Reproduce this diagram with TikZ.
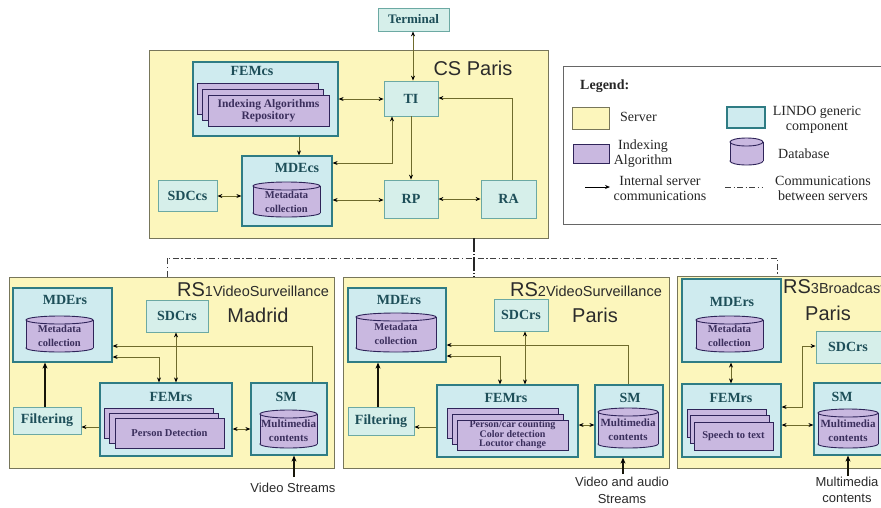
\documentclass[tikz,border=0pt]{standalone}
\usepackage{fontspec}
\setmainfont{Liberation Serif}
\setsansfont{Liberation Sans}
\usetikzlibrary{arrows.meta}
\definecolor{srvfill}{HTML}{FCF6BC}
\definecolor{srvdraw}{HTML}{77765A}
\definecolor{compfill}{HTML}{CFEBEF}
\definecolor{compdraw}{HTML}{2F7C84}
\definecolor{comptwofill}{HTML}{D6EFEA}
\definecolor{comptwodraw}{HTML}{6CA9A3}
\definecolor{labcol}{HTML}{1D4E58}
\definecolor{algfill}{HTML}{C9B8E0}
\definecolor{algdraw}{HTML}{2F2459}
\definecolor{algtext}{HTML}{3A2E5C}
\definecolor{linecol}{HTML}{6F6B2C}
\definecolor{titlecol}{HTML}{2B2B2B}
\tikzset{
 srv/.style={draw=srvdraw, fill=srvfill, line width=0.8pt, inner sep=0pt},
 comp/.style={draw=compdraw, fill=compfill, line width=1.2pt, inner sep=0pt, font=\bfseries\fontsize{14}{16}\selectfont, text=labcol},
 compb/.style={draw=comptwodraw, fill=comptwofill, line width=0.8pt, inner sep=0pt, font=\bfseries\fontsize{14}{16}\selectfont, text=labcol},
 lab/.style={inner sep=0pt, font=\bfseries\fontsize{14}{16}\selectfont, text=labcol},
 alg/.style={draw=algdraw, fill=algfill, line width=1pt},
 algtxt/.style={font=\bfseries\fontsize{10.5}{12}\selectfont, text=algtext, align=center, inner sep=0pt},
 db/.style={draw=algdraw, fill=algfill, line width=0.9pt},
 dbline/.style={draw=algdraw, line width=0.9pt},
 one/.style={draw=linecol, line width=1pt, -{Stealth[length=5pt,width=4pt,black]}},
 two/.style={draw=linecol, line width=1pt, {Stealth[length=5pt,width=4pt,black]}-{Stealth[length=5pt,width=4pt,black]}},
 heavy/.style={draw=black!80!linecol, line width=1.5pt, -{Stealth[length=6pt,width=5pt,black]}},
 inter/.style={draw=black!75, line width=1pt, dash pattern=on 6pt off 2.5pt on 1.2pt off 2.5pt},
 title/.style={font=\sffamily\fontsize{20}{24}\selectfont, text=titlecol, inner sep=0pt},
 lgd/.style={font=\fontsize{14}{15}\selectfont, align=center, inner sep=0pt, text=black!85},
 inp/.style={font=\sffamily\fontsize{13}{17}\selectfont, align=center, inner sep=0pt, text=titlecol},
}
% box: style, name, x1, y1, x2, y2, text
\newcommand\bx[7]{\node[#1, minimum width={#5-#3}, minimum height={#6-#4}] (#2) at ({(#3+#5)/2},{(#4+#6)/2}) {#7};}
% cylinder: x1,y1,x2,y2
\newcommand\dbcyl[4]{%
 \pgfmathsetmacro\dbcx{(#1+#3)/2}%
 \pgfmathsetmacro\dbrx{(#3-#1)/2}%
 \fill[algfill] (#1,#2+4) rectangle (#3,#4-4);
 \filldraw[db] (\dbcx,#4-4) ellipse [x radius=\dbrx pt, y radius=4pt];
 \fill[algfill] (#1,#2+4) rectangle (#3,#4-4);
 \draw[dbline] (#1,#2+4) -- (#1,#4-4) (#3,#2+4) -- (#3,#4-4);
 \filldraw[db] (\dbcx,#2+4) ellipse [x radius=\dbrx pt, y radius=4pt];
}
% stack: name, x1,y1,x2,y2 (front), dx, dy, text, extra style
\newcommand\algstack[9]{%
 \draw[alg] (#2-2*#6,#3-2*#7) rectangle (#4-2*#6,#5-2*#7);
 \draw[alg] (#2-#6,#3-#7) rectangle (#4-#6,#5-#7);
 \node[alg, minimum width={#4-#2}, minimum height={#5-#3}, inner sep=0pt, algtxt, #9] (#1) at ({(#2+#4)/2},{(#3+#5)/2}) {#8};
}
\begin{document}
\begin{tikzpicture}[x=1pt,y=-1pt]
\useasboundingbox (0,0) rectangle (881,507);
\fill[white] (0,0) rectangle (881,507);

% ---------------- servers
\bx{srv}{cs}{149}{50}{548}{238}{}
\bx{srv}{rs1}{9}{277}{334}{468}{}
\bx{srv}{rs2}{343}{277}{669}{468}{}
\bx{srv}{rs3}{677}{276}{892}{468}{}

% ---------------- legend
\bx{draw=black!60, fill=white, line width=1pt, inner sep=0pt}{legend}{563}{66}{892}{224}{}
\node[lgd, anchor=west, font=\bfseries\fontsize{14}{15}\selectfont] (lgtitle) at (580,86) {Legend:};
\bx{srv}{lgsrv}{572}{107}{609}{129}{}
\node[lgd, anchor=west] (lgsrvt) at (620,117) {Server};
\bx{comp}{lgcomp}{727}{107}{765}{128}{}
\node[lgd] (lgcompt) at (817,120) {LINDO generic\\component};
\bx{alg, inner sep=0pt}{lgalg}{573}{144}{609}{163}{}
\node[lgd] (lgalgt) at (643,154) {Indexing\\Algorithm};
\dbcyl{730}{138}{763}{165}
\node[lgd, anchor=west] (lgdbt) at (778,154) {Database};
\coordinate (lga1) at (585,187);
\coordinate (lga2) at (610,187);
\draw[line width=1pt, -{Stealth[length=5pt,width=4pt]}] (lga1) -- (lga2);
\node[lgd] (lgarrt) at (660,188) {Internal server\\communications};
\coordinate (lgd1) at (725,187);
\coordinate (lgd2) at (762,187);
\draw[inter] (lgd1) -- (lgd2);
\node[lgd] (lgdasht) at (823,188) {Communications\\between servers};

% ---------------- CS Paris
\node[title] (cst) at (473,68) {CS Paris};
\bx{compb, font=\bfseries\fontsize{13}{15}\selectfont}{terminal}{378}{8}{449}{31}{Terminal}
\bx{comp}{femcs}{193}{62}{338}{136}{}
\node[lab] (femcsl) at (252,71) {FEMcs};
\algstack{iar}{208}{95}{329}{126}{5.5}{6}{Indexing Algorithms\\Repository}{font=\bfseries\fontsize{11.5}{12}\selectfont}
\bx{compb}{ti}{384}{81}{438}{116}{TI}
\bx{comp}{mdecs}{242}{156}{332}{226}{}
\node[lab] (mdecsl) at (297,168) {MDEcs};
\dbcyl{253}{182}{320}{217}
\node[algtxt, font=\bfseries\fontsize{10.5}{14}\selectfont] (mdcsdb) at (286.5,201.5) {Metadata\\collection};
\bx{compb}{sdccs}{158}{180}{217}{211}{SDCcs}
\bx{compb}{rp}{384}{180}{438}{218}{RP}
\bx{compb}{ra}{481}{180}{536}{218}{RA}

\draw[two] (413,0 |- terminal.south) -- (413,0 |- ti.north);
\draw[two] (femcs.east |- 0,99) -- (ti.west |- 0,99);
\draw[one] (299,0 |- femcs.south) -- (299,0 |- mdecs.north);
\draw[two] (mdecs.east |- 0,163) -- (392,163) -- (392,0 |- ti.south);
\draw[one] (411,0 |- ti.south) -- (411,0 |- rp.north);
\draw[two] (sdccs.east |- 0,196) -- (mdecs.west |- 0,196);
\draw[two] (mdecs.east |- 0,200) -- (rp.west |- 0,200);
\draw[two] (rp.east |- 0,199) -- (ra.west |- 0,199);
\draw[one] (512,0 |- ra.north) -- (512,98) -- (ti.east |- 0,98);

% ---------------- inter-server links
\draw[inter] (167,0 |- rs1.north) -- (167,258) -- (777,258) -- (777,0 |- rs3.north);
\draw[inter, line width=1.5pt, draw=black!85, dash pattern=on 14pt off 2pt on 1pt off 2pt] (474,0 |- cs.south) -- (474,0 |- rs2.north);

% ---------------- RS1 Madrid
\node[title, anchor=base west] (rs1t) at (177,296) {RS{\fontsize{14.5}{17}\selectfont 1VideoSurveillance}};
\node[title] (rs1c) at (258,315) {Madrid};
\bx{comp}{mder1}{13}{288}{112}{362}{}
\node[lab] (mder1l) at (65,300) {MDErs};
\dbcyl{26}{316}{93}{352}
\node[algtxt, font=\bfseries\fontsize{10.5}{14}\selectfont] (md1db) at (59.5,336) {Metadata\\collection};
\bx{compb}{sdc1}{146}{300}{208}{332}{SDCrs}
\bx{comp}{fem1}{100}{383}{232}{456}{}
\node[lab] (fem1l) at (171,397) {FEMrs};
\algstack{pd}{115}{418}{224}{448}{5.5}{5}{Person Detection}{}
\bx{comp}{sm1}{251}{383}{327}{455}{}
\node[lab] (sm1l) at (286,397) {SM};
\dbcyl{260}{410}{317}{448}
\node[algtxt, font=\bfseries\fontsize{11}{14}\selectfont] (mm1db) at (288.5,431) {Multimedia\\contents};
\bx{compb}{filt1}{13}{407}{81}{434}{Filtering}
\coordinate (vs1) at (294,477);
\node[inp] (vs1t) at (293,488) {Video Streams};

\draw[heavy] (45,0 |- filt1.north) -- (45,0 |- mder1.south);
\draw[one] (fem1.west |- 0,427) -- (filt1.east |- 0,427);
\draw[one] (312,0 |- sm1.north) -- (312,346) -- (mder1.east |- 0,346);
\draw[two] (mder1.east |- 0,357) -- (159,357) -- (159,0 |- fem1.north);
\draw[two] (176,0 |- sdc1.south) -- (176,0 |- fem1.north);
\draw[two] (fem1.east |- 0,429) -- (sm1.west |- 0,429);
\draw[heavy, line width=1.2pt] (vs1) -- (294,0 |- sm1.south);

% ---------------- RS2 Paris
\node[title, anchor=base west] (rs2t) at (510,296) {RS{\fontsize{14.5}{17}\selectfont 2VideoSurveillance}};
\node[title] (rs2c) at (595,315) {Paris};
\bx{comp}{mder2}{348}{288}{446}{362}{}
\node[lab] (mder2l) at (399,300) {MDErs};
\dbcyl{356}{313}{436}{352}
\node[algtxt, font=\bfseries\fontsize{10.5}{14}\selectfont] (md2db) at (396,334) {Metadata\\collection};
\bx{compb}{sdc2}{494}{299}{548}{331}{SDCrs}
\bx{comp}{fem2}{437}{385}{578}{457}{}
\node[lab] (fem2l) at (506,398) {FEMrs};
\algstack{pcc}{457}{420}{568}{450}{5}{6}{Person/car counting\\Color detection\\Locutor change}{font=\bfseries\fontsize{10}{9}\selectfont}
\bx{comp}{sm2}{595}{385}{663}{457}{}
\node[lab] (sm2l) at (630,398) {SM};
\dbcyl{598}{408}{658}{448}
\node[algtxt, font=\bfseries\fontsize{11}{14}\selectfont] (mm2db) at (628,430) {Multimedia\\contents};
\bx{compb}{filt2}{348}{407}{414}{435}{Filtering}
\coordinate (vs2) at (623,474);
\node[inp] (vs2t) at (622,490) {Video and audio\\Streams};

\draw[heavy] (378,0 |- filt2.north) -- (378,0 |- mder2.south);
\draw[one] (fem2.west |- 0,427) -- (filt2.east |- 0,427);
\draw[one] (628,0 |- sm2.north) -- (628,345) -- (mder2.east |- 0,345);
\draw[two] (mder2.east |- 0,356) -- (500,356) -- (500,0 |- fem2.north);
\draw[two] (525,0 |- sdc2.south) -- (525,0 |- fem2.north);
\draw[two] (fem2.east |- 0,425) -- (sm2.west |- 0,425);
\draw[heavy, line width=1.2pt] (vs2) -- (623,0 |- sm2.south);

% ---------------- RS3 Broadcast Paris
\node[title, anchor=base west] (rs3t) at (783,293) {RS{\fontsize{14.5}{17}\selectfont 3Broadcast}};
\node[title] (rs3c) at (828,313) {Paris};
\bx{comp}{mder3}{682}{279}{781}{362}{}
\node[lab] (mder3l) at (732,302) {MDErs};
\dbcyl{696}{316}{763}{352}
\node[algtxt, font=\bfseries\fontsize{10.5}{14}\selectfont] (md3db) at (729.5,336) {Metadata\\collection};
\bx{compb}{sdc3}{816}{331}{886}{363}{}
\node[lab] (sdc3l) at (848,347) {SDCrs};
\bx{comp}{fem3}{682}{384}{781}{457}{}
\node[lab] (fem3l) at (731,398) {FEMrs};
\algstack{stt}{694}{422}{773}{450}{3.5}{6.5}{Speech to text}{}
\bx{comp}{sm3}{814}{383}{886}{455}{}
\node[lab] (sm3l) at (842,397) {SM};
\dbcyl{818}{409}{878}{448}
\node[algtxt, font=\bfseries\fontsize{11}{14}\selectfont] (mm3db) at (848,431) {Multimedia\\contents};
\coordinate (vs3) at (848,476);
\node[inp, font=\sffamily\fontsize{13}{16}\selectfont] (vs3t) at (847,490) {Multimedia\\contents};

\draw[two] (731,0 |- mder3.south) -- (731,0 |- fem3.north);
\draw[two] (fem3.east |- 0,407) -- (802,407) -- (802,346) -- (sdc3.west |- 0,346);
\draw[two] (fem3.east |- 0,425) -- (sm3.west |- 0,425);
\draw[heavy, line width=1.2pt] (vs3) -- (848,0 |- sm3.south);
\end{tikzpicture}
\end{document}
